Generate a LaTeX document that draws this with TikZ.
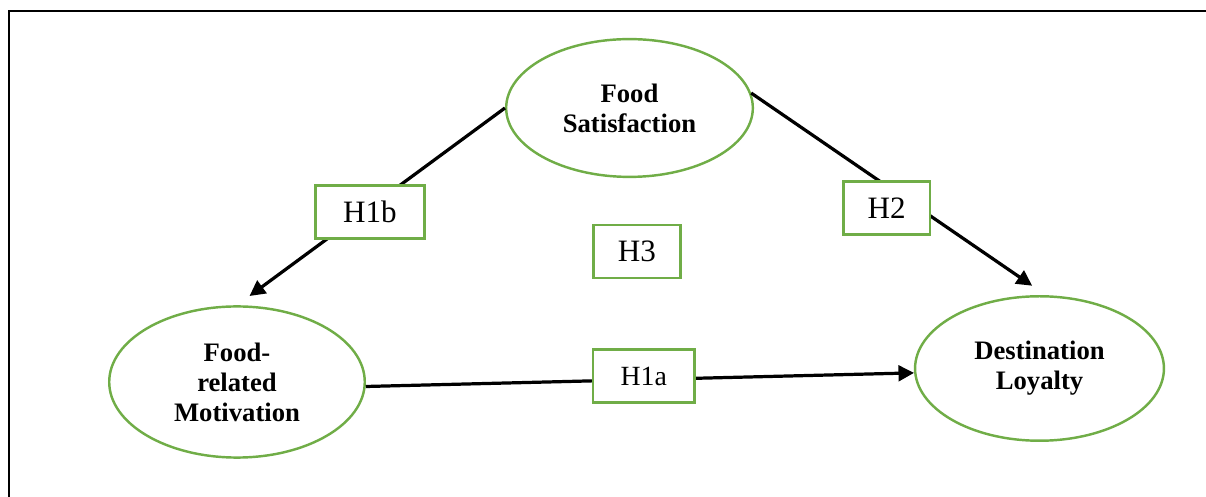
\documentclass[tikz,border=0pt]{standalone}
\usepackage{fontspec}
\setmainfont{Liberation Serif}
\usepackage{xcolor}
\usetikzlibrary{shapes.geometric,arrows.meta}
\definecolor{leafgreen}{HTML}{70AD47}

\begin{document}
\begin{tikzpicture}[x=0.45pt,y=-0.45pt,
  construct/.style={ellipse, draw=leafgreen, line width=1.1pt, inner sep=0pt, align=center,
    font=\fontsize{12}{13.5}\selectfont\bfseries},
  hypo/.style={rectangle, draw=leafgreen, fill=white, line width=1.1pt, inner sep=0pt,
    minimum height=24pt, font=\fontsize{14}{16}\selectfont},
  link/.style={line width=1.45pt, -{Triangle[length=7pt,width=7pt]}}]
  % Page frame
  \useasboundingbox (0,0) rectangle (1206,497);
  \draw[line width=1.2pt] (1206,11) -- (9,11) -- (9,497);

  % The three constructs
  \node[construct, minimum width=111pt, minimum height=62pt] (sat) at (629.5,108) {Food\\Satisfaction};
  \node[construct, minimum width=115pt, minimum height=68pt] (mot) at (237,382) {Food-\\related\\Motivation};
  \node[construct, minimum width=112pt, minimum height=65pt] (dest) at (1039.5,368.5) {Destination\\Loyalty};

  % Paths between them
  \draw[link, shorten >=7pt] (sat.west) -- (mot.north);
  \draw[link, shorten >=7.5pt] (sat.7) -- (dest.85);
  \draw[link] (mot.-2) -- (dest.182);

  % Hypothesis labels
  \node[hypo, minimum width=49pt] (h1b) at (370,212) {H1b};
  \node[hypo, minimum width=39pt] (h2) at (886.7,208) {H2};
  \node[hypo, minimum width=39pt] (h3) at (637,251.5) {H3};
  \node[hypo, minimum width=45.5pt, font=\fontsize{12.5}{15}\selectfont] (h1a) at (643.8,376) {H1a};
\end{tikzpicture}
\end{document}
